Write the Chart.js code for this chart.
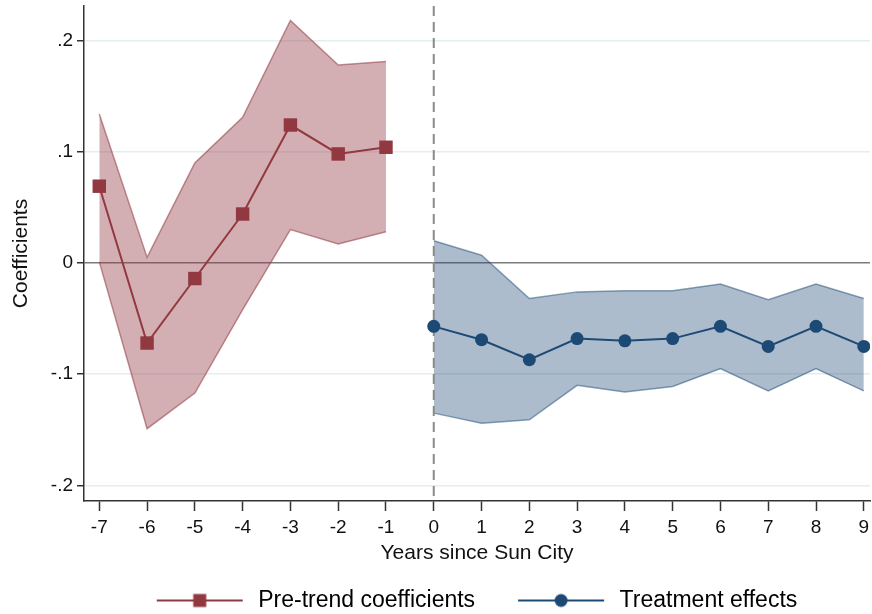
<!DOCTYPE html>
<html>
<head>
<meta charset="utf-8">
<script src="https://cdn.jsdelivr.net/npm/chart.js@4.4.1/dist/chart.umd.min.js"></script>
<style>
  html, body { margin: 0; padding: 0; background: #fff; }
</style>
</head>
<body>
<canvas id="es-chart" width="872" height="614"></canvas>
<script>
// years relative to Sun City opening
const preYears = [-7, -6, -5, -4, -3, -2, -1];
const preCoef = [0.069, -0.072, -0.014, 0.044, 0.124, 0.098, 0.104];
const preUpper = [0.134, 0.005, 0.090, 0.131, 0.218, 0.178, 0.181];
const preLower = [0.001, -0.149, -0.117, -0.042, 0.030, 0.017, 0.028];

const postYears = [0, 1, 2, 3, 4, 5, 6, 7, 8, 9];
const postCoef = [-0.057, -0.069, -0.087, -0.068, -0.070, -0.068, -0.057, -0.075, -0.057, -0.075];
const postUpper = [0.020, 0.007, -0.032, -0.026, -0.025, -0.025, -0.019, -0.033, -0.019, -0.032];
const postLower = [-0.135, -0.144, -0.141, -0.110, -0.116, -0.111, -0.095, -0.115, -0.095, -0.115];

const xTicks = [-7, -6, -5, -4, -3, -2, -1, 0, 1, 2, 3, 4, 5, 6, 7, 8, 9];
const yTicks = [-0.2, -0.1, 0, 0.1, 0.2];
const xRange = [-7.32, 9.13];
const yRange = [-0.214, 0.231];

const seriesNames = ["Pre-trend coefficients", "Treatment effects"];

const red = "rgb(146,56,64)";
const blue = "rgb(29,74,117)";

const pts = (xs, ys) => xs.map((x, i) => ({ x: x, y: ys[i] }));

// little line+marker swatch for the legend
function swatch(color, shape) {
    const c = document.createElement("canvas");
    c.width = 110; c.height = 20;
    const g = c.getContext("2d");
    g.strokeStyle = color;
    g.lineWidth = 2;
    g.beginPath(); g.moveTo(20, 10); g.lineTo(106, 10); g.stroke();
    g.fillStyle = color;
    if (shape === "rect") {
        g.fillRect(63 - 6.5, 10 - 6.5, 13, 13);
    } else {
        g.beginPath(); g.arc(63, 10, 6.5, 0, Math.PI * 2); g.fill();
    }
    return c;
}
const swatches = [swatch(red, "rect"), swatch(blue, "circle")];

// stata puts the legend a little left of the plot centre
const legendNudge = {
    id: "legendNudge",
    afterLayout(chart) {
        const lg = chart.legend;
        if (lg) { lg.left -= 10; lg.right -= 10; }
    },
};

const ctx = document.getElementById("es-chart").getContext("2d");

const chart = new Chart(ctx, {
    type: "line",
    plugins: [legendNudge],
    data: {
        datasets: [
            {
                label: seriesNames[0],
                data: pts(preYears, preCoef),
                borderColor: red,
                backgroundColor: red,
                borderWidth: 2,
                pointStyle: "rect",
                pointRadius: 9.5,
                pointHoverRadius: 9.5,
                pointBorderWidth: 0,
                fill: false,
            },
            {
                label: seriesNames[1],
                data: pts(postYears, postCoef),
                borderColor: blue,
                backgroundColor: blue,
                borderWidth: 2,
                pointStyle: "circle",
                pointRadius: 6.5,
                pointHoverRadius: 6.5,
                pointBorderWidth: 0,
                fill: false,
            },
            {
                label: "ref",
                data: [{ x: 0, y: yRange[1] }, { x: 0, y: yRange[0] }],
                borderColor: "#8a8a8a",
                borderWidth: 2,
                borderDash: [10, 6],
                pointRadius: 0,
                fill: false,
            },
            {
                label: "pre upper",
                data: pts(preYears, preUpper),
                borderColor: "rgba(146,56,64,0.55)",
                backgroundColor: "rgba(146,56,64,0.4)",
                borderWidth: 1.5,
                pointRadius: 0,
                fill: "+1",
            },
            {
                label: "pre lower",
                data: pts(preYears, preLower),
                borderColor: "rgba(146,56,64,0.55)",
                borderWidth: 1.5,
                pointRadius: 0,
                fill: false,
            },
            {
                label: "post upper",
                data: pts(postYears, postUpper),
                borderColor: "rgba(29,74,117,0.5)",
                backgroundColor: "rgba(29,74,117,0.37)",
                borderWidth: 1.5,
                pointRadius: 0,
                fill: "+1",
            },
            {
                label: "post lower",
                data: pts(postYears, postLower),
                borderColor: "rgba(29,74,117,0.5)",
                borderWidth: 1.5,
                pointRadius: 0,
                fill: false,
            },
        ],
    },
    options: {
        responsive: false,
        animation: false,
        events: [],
        layout: { autoPadding: false, padding: { top: 6, right: 2, left: 0, bottom: -8 } },
        scales: {
            x: {
                type: "linear",
                min: xRange[0],
                max: xRange[1],
                afterBuildTicks: (s) => { s.ticks = xTicks.map((v) => ({ value: v })); },
                afterFit: (s) => { s.paddingLeft = 0; s.paddingRight = 0; },
                ticks: {
                    color: "#111",
                    font: { family: "Liberation Sans", size: 19 },
                    padding: 5,
                    maxRotation: 0,
                    autoSkip: false,
                },
                grid: {
                    drawOnChartArea: false,
                    drawTicks: true,
                    tickLength: 10,
                    tickColor: "#333",
                    tickWidth: 1.5,
                },
                border: { display: true, color: "#333", width: 1.5 },
                title: {
                    display: true,
                    text: "Years since Sun City",
                    color: "#111",
                    font: { family: "Liberation Sans", size: 21 },
                    padding: { top: -3, bottom: 0 },
                },
            },
            y: {
                type: "linear",
                min: yRange[0],
                max: yRange[1],
                afterBuildTicks: (s) => { s.ticks = yTicks.map((v) => ({ value: v })); },
                afterFit: (s) => { s.width = 84; s.paddingTop = 0; s.paddingBottom = 0; },
                ticks: {
                    color: "#111",
                    font: { family: "Liberation Sans", size: 19 },
                    padding: 4,
                    callback: (v) => (v === 0 ? "0" : String(v).replace("0.", ".")),
                },
                grid: {
                    color: (c) => (c.tick && c.tick.value === 0 ? "#7d7d7d" : "#e4eef1"),
                    lineWidth: 1.5,
                    drawTicks: true,
                    tickLength: 7,
                    tickColor: "#333",
                    tickWidth: 1.5,
                },
                border: { display: true, color: "#333", width: 1.5 },
                title: {
                    display: true,
                    text: "Coefficients",
                    color: "#111",
                    font: { family: "Liberation Sans", size: 21 },
                    padding: { top: 9, bottom: 0 },
                },
            },
        },
        plugins: {
            tooltip: { enabled: false },
            legend: {
                position: "bottom",
                fullSize: false,
                labels: {
                    usePointStyle: true,
                    pointStyleWidth: 110,
                    boxHeight: 20,
                    padding: 23,
                    color: "#111",
                    font: { family: "Liberation Sans", size: 23 },
                    generateLabels: () => seriesNames.map((name, i) => ({
                        text: name,
                        pointStyle: swatches[i],
                        fillStyle: "rgba(0,0,0,0)",
                        strokeStyle: "rgba(0,0,0,0)",
                        lineWidth: 0,
                        hidden: false,
                        datasetIndex: i,
                    })),
                },
            },
        },
    },
});
</script>
</body>
</html>
